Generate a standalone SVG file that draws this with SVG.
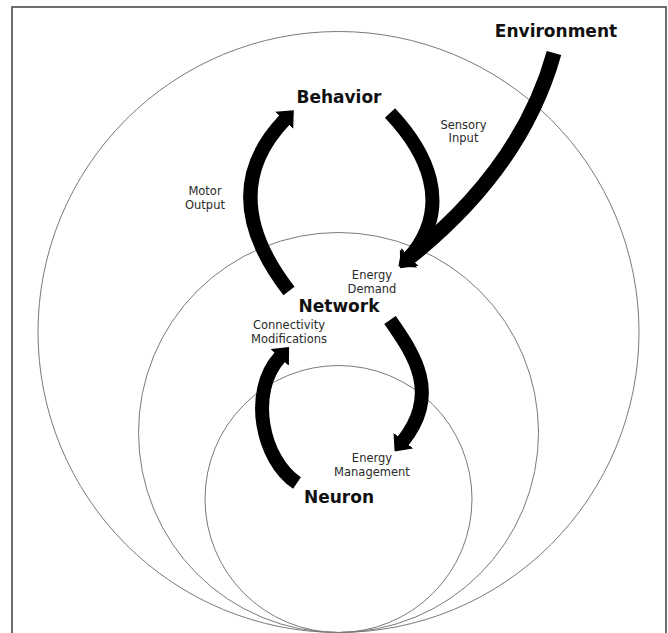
<svg xmlns="http://www.w3.org/2000/svg" width="668" height="633" viewBox="0 0 668 633">
<defs>
<style>
.ring{fill:none;stroke:#7a7a7a;stroke-width:1}
.frame{fill:none;stroke:#4a4a4a;stroke-width:1.6}
.title{font-family:"DejaVu Sans",sans-serif;font-weight:bold;font-size:17px;fill:#111;text-anchor:middle}
.lbl{font-family:"DejaVu Sans",sans-serif;font-size:11.5px;fill:#2a2a2a;text-anchor:middle}
.arr{fill:none;stroke:#000;stroke-width:14;stroke-linecap:butt;marker-end:url(#head)}
</style>
<marker id="head" markerUnits="userSpaceOnUse" viewBox="0 0 14 25" markerWidth="14" markerHeight="25" refX="0.5" refY="12.5" orient="auto">
<path d="M0,0 L14,12.5 L0,25 z" fill="#000"/>
</marker>
</defs>
<rect width="668" height="633" fill="#fff"/>
<rect class="frame" x="12" y="7" width="654" height="640"/>
<g id="rings">
<circle id="ring-behavior" class="ring" cx="338.5" cy="332" r="300.5"/>
<circle id="ring-network" class="ring" cx="338.5" cy="432.5" r="200"/>
<circle id="ring-neuron" class="ring" cx="338.5" cy="499" r="133.5"/>
</g>
<g id="connectors">
<path id="motor-output" class="arr" d="M289,291 Q214,194 284.5,120"/>
<path id="behavior-demand" class="arr" d="M390,113 C425,150 455,205 409,258"/>
<path id="environment-demand" class="arr" style="stroke-width:15" d="M554,53 Q522,168 409,258"/>
<path id="network-management" class="arr" d="M390,320 C412,352 442,392 403,441"/>
<path id="neuron-connectivity" class="arr" d="M297,483 C262,460 248,392 280,357"/>
</g>
<g id="node-environment"><text class="title" x="556" y="37">Environment</text></g>
<g id="node-behavior"><text class="title" x="339" y="103">Behavior</text></g>
<g id="node-network"><text class="title" x="339" y="312">Network</text></g>
<g id="node-neuron"><text class="title" x="339" y="503">Neuron</text></g>
<g id="labels">
<text class="lbl" x="463.5" y="129">Sensory</text>
<text class="lbl" x="463.5" y="142">Input</text>
<text class="lbl" x="205" y="195">Motor</text>
<text class="lbl" x="205" y="208.5">Output</text>
<text class="lbl" x="372" y="279">Energy</text>
<text class="lbl" x="372" y="292.5">Demand</text>
<text class="lbl" x="289" y="328.5">Connectivity</text>
<text class="lbl" x="289" y="342.5">Modifications</text>
<text class="lbl" x="372" y="462">Energy</text>
<text class="lbl" x="372" y="475.5">Management</text>
</g>
</svg>
